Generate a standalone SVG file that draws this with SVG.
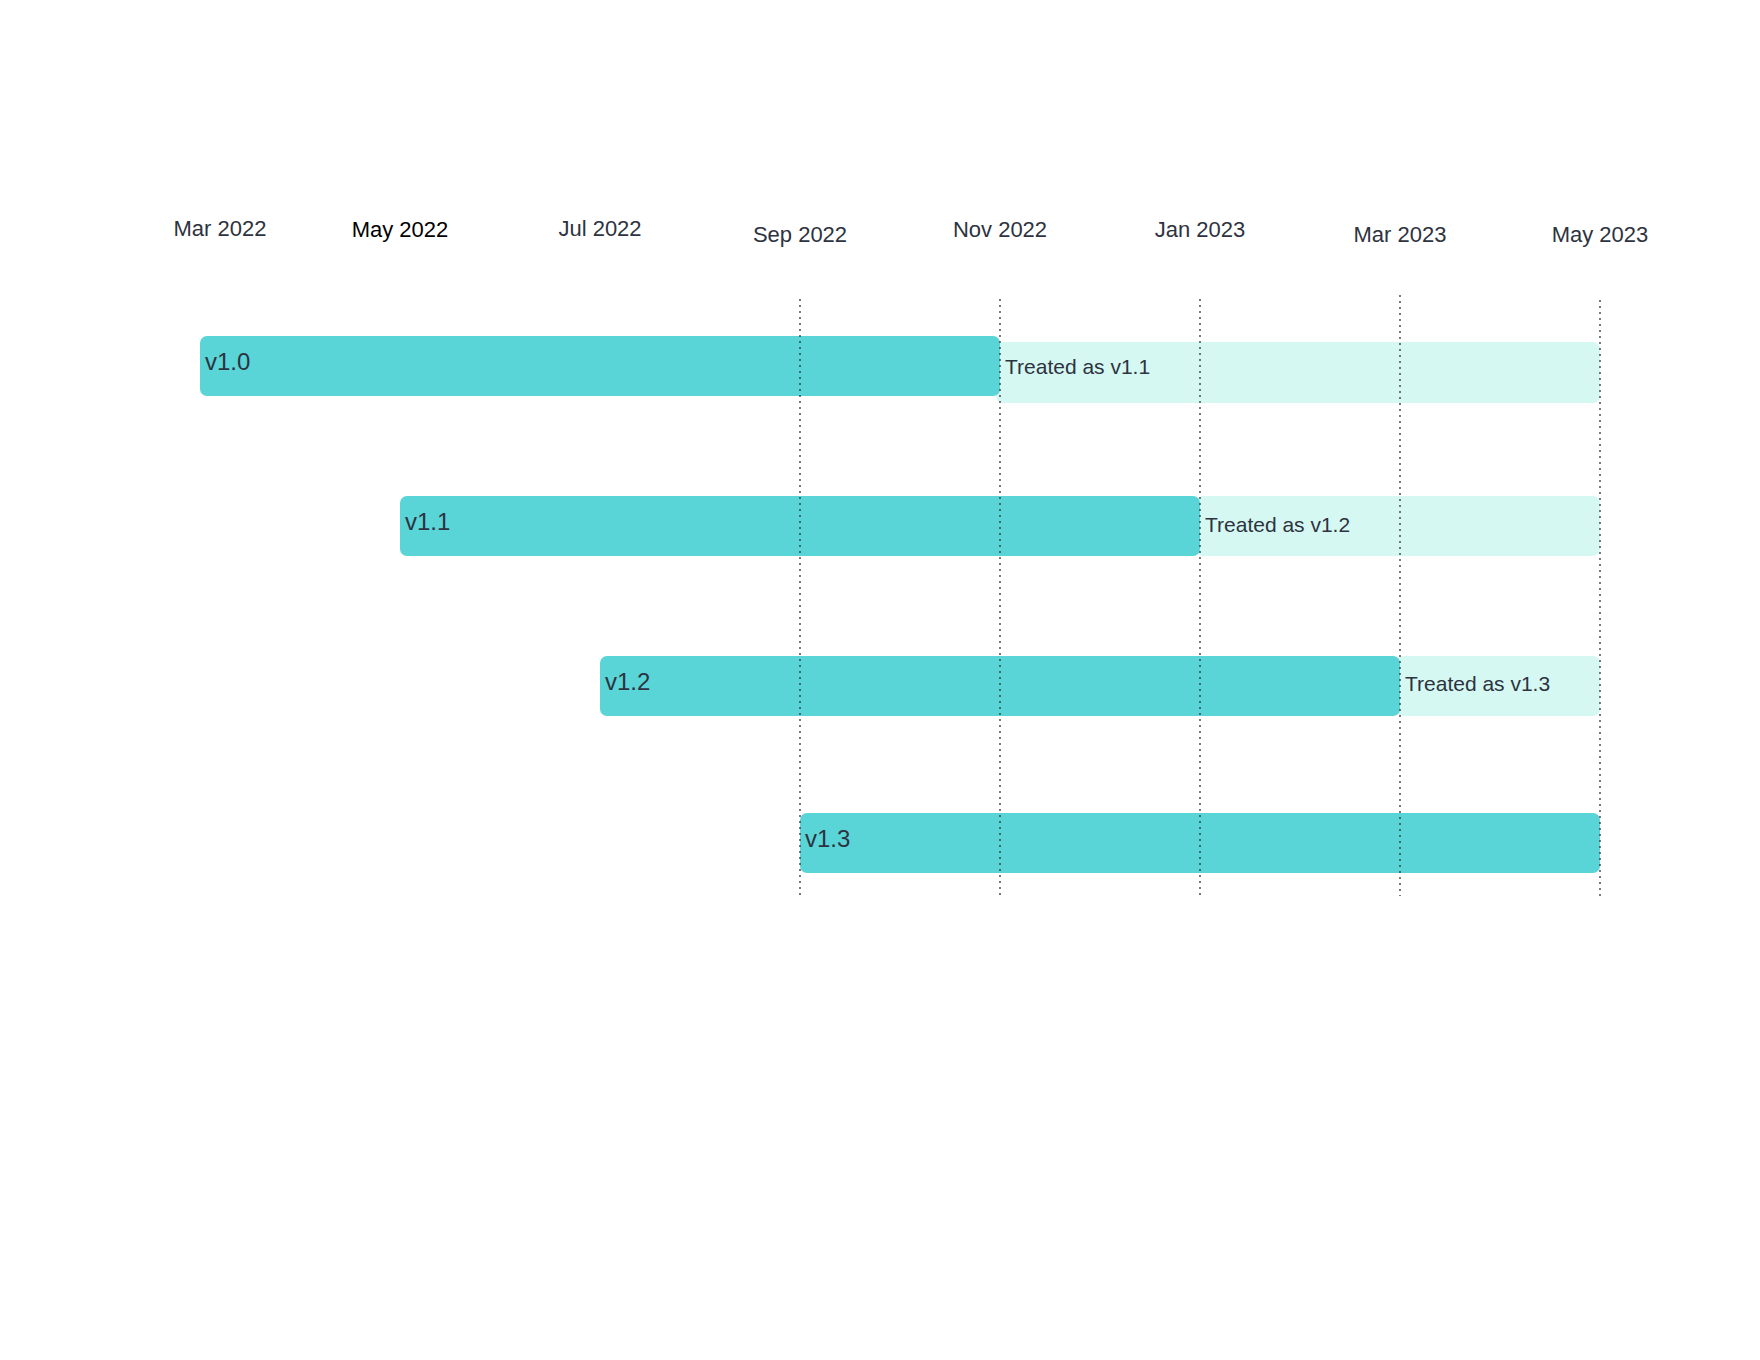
<svg xmlns="http://www.w3.org/2000/svg" width="1760" height="1360" viewBox="0 0 1760 1360">
<style>
text{font-family:"Liberation Sans",Arial,sans-serif;fill:#2d3340}
.m{font-size:22px;text-anchor:middle}
.v{font-size:24px}
.t{font-size:21px}
.d{fill:#59d5d8}
.l{fill:#d6f8f2}
.g{stroke:#333;stroke-width:1.3;stroke-dasharray:2 4;fill:none}
</style>
<rect width="1760" height="1360" fill="#fff"/>
<g id="axis">
<text class="m" x="220" y="236">Mar 2022</text>
<text class="m" x="400" y="237" style="fill:#000">May 2022</text>
<text class="m" x="600" y="236">Jul 2022</text>
<text class="m" x="800" y="242">Sep 2022</text>
<text class="m" x="1000" y="237">Nov 2022</text>
<text class="m" x="1200" y="237">Jan 2023</text>
<text class="m" x="1400" y="242">Mar 2023</text>
<text class="m" x="1600" y="242">May 2023</text>
</g>
<g id="bars">
<g id="v10"><rect class="l" x="996" y="342" width="604" height="61" rx="7"/><rect class="d" x="200" y="336" width="800" height="60" rx="7"/><text class="v" x="205" y="370">v1.0</text><text class="t" x="1005" y="374">Treated as v1.1</text></g>
<g id="v11"><rect class="l" x="1196" y="496" width="404" height="60" rx="7"/><rect class="d" x="400" y="496" width="800" height="60" rx="7"/><text class="v" x="405" y="530">v1.1</text><text class="t" x="1205" y="532">Treated as v1.2</text></g>
<g id="v12"><rect class="l" x="1396" y="656" width="204" height="60" rx="7"/><rect class="d" x="600" y="656" width="800" height="60" rx="7"/><text class="v" x="605" y="690">v1.2</text><text class="t" x="1405" y="691">Treated as v1.3</text></g>
<g id="v13"><rect class="d" x="800" y="813" width="800" height="60" rx="7"/><text class="v" x="805" y="847">v1.3</text></g>
</g>
<g id="connectors">
<line class="g" x1="800" y1="299" x2="800" y2="896"/>
<line class="g" x1="1000" y1="299" x2="1000" y2="896"/>
<line class="g" x1="1200" y1="299" x2="1200" y2="896"/>
<line class="g" x1="1400" y1="295" x2="1400" y2="896"/>
<line class="g" x1="1600" y1="300" x2="1600" y2="900"/>
</g>
</svg>
